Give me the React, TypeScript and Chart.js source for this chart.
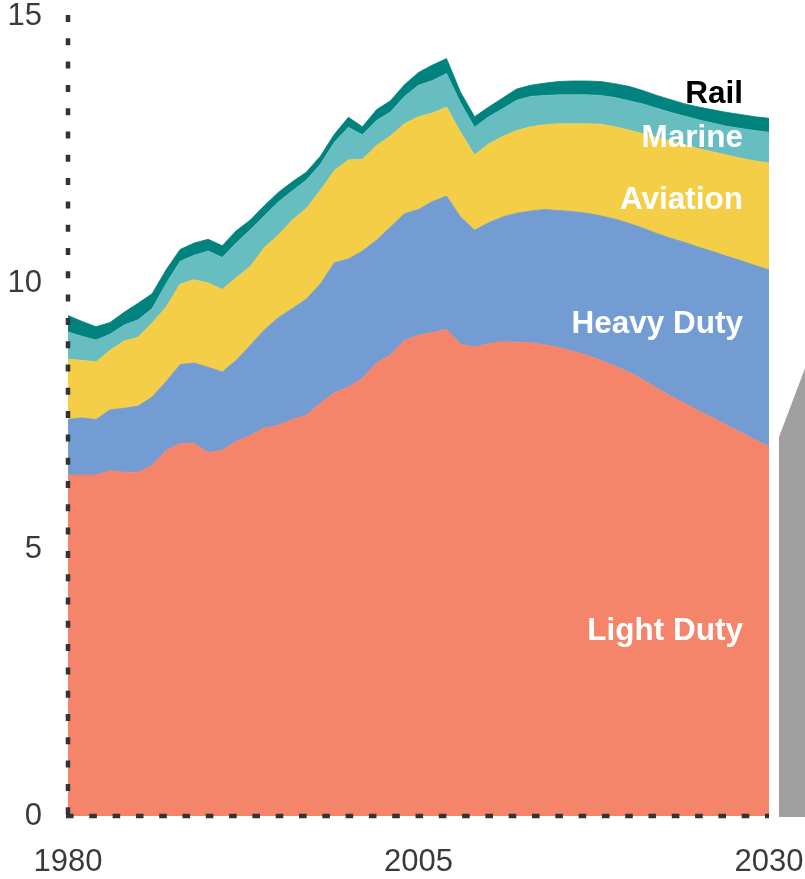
import React, { useEffect, useRef } from 'react';
import { Chart, registerables } from 'chart.js';

Chart.register(...registerables);

// ---- Data ----
const years = [
  1980, 1981, 1982, 1983, 1984, 1985, 1986, 1987, 1988, 1989,
  1990, 1991, 1992, 1993, 1994, 1995, 1996, 1997, 1998, 1999,
  2000, 2001, 2002, 2003, 2004, 2005, 2006, 2007, 2008, 2009,
  2010, 2011, 2012, 2013, 2014, 2015, 2016, 2017, 2018, 2019,
  2020, 2021, 2022, 2023, 2024, 2025, 2026, 2027, 2028, 2029, 2030,
];

const lightDuty = [
  6.40, 6.40, 6.40, 6.48, 6.45, 6.45, 6.58, 6.86, 6.99, 6.99,
  6.82, 6.86, 7.03, 7.14, 7.28, 7.33, 7.44, 7.52, 7.75, 7.94,
  8.05, 8.21, 8.50, 8.65, 8.92, 9.02, 9.07, 9.13, 8.85, 8.80,
  8.86, 8.90, 8.89, 8.88, 8.84, 8.79, 8.72, 8.65, 8.55, 8.44,
  8.33, 8.19, 8.03, 7.88, 7.74, 7.60, 7.47, 7.33, 7.20, 7.06, 6.93,
];

const heavyDuty = [
  1.04, 1.07, 1.04, 1.14, 1.20, 1.24, 1.28, 1.29, 1.48, 1.51,
  1.60, 1.47, 1.52, 1.69, 1.84, 2.02, 2.08, 2.18, 2.23, 2.44,
  2.40, 2.39, 2.30, 2.40, 2.38, 2.36, 2.46, 2.50, 2.39, 2.19,
  2.27, 2.34, 2.42, 2.47, 2.54, 2.57, 2.62, 2.66, 2.71, 2.76,
  2.79, 2.84, 2.90, 2.96, 3.02, 3.07, 3.12, 3.17, 3.22, 3.27, 3.32,
];

const aviation = [
  1.13, 1.08, 1.08, 1.12, 1.26, 1.29, 1.39, 1.40, 1.51, 1.56,
  1.58, 1.55, 1.55, 1.48, 1.54, 1.55, 1.66, 1.70, 1.76, 1.73,
  1.86, 1.72, 1.78, 1.71, 1.69, 1.74, 1.66, 1.67, 1.59, 1.41,
  1.48, 1.51, 1.55, 1.58, 1.59, 1.63, 1.65, 1.68, 1.72, 1.73,
  1.75, 1.77, 1.80, 1.82, 1.83, 1.85, 1.87, 1.90, 1.92, 1.96, 2.00,
];

const marine = [
  0.51, 0.45, 0.41, 0.30, 0.30, 0.33, 0.27, 0.44, 0.43, 0.46,
  0.60, 0.60, 0.65, 0.69, 0.60, 0.62, 0.55, 0.53, 0.49, 0.53,
  0.61, 0.46, 0.47, 0.45, 0.51, 0.59, 0.61, 0.63, 0.55, 0.52,
  0.51, 0.52, 0.57, 0.57, 0.55, 0.54, 0.54, 0.54, 0.54, 0.55,
  0.55, 0.56, 0.55, 0.54, 0.54, 0.54, 0.54, 0.54, 0.56, 0.57, 0.58,
];

const rail = [
  0.31, 0.28, 0.25, 0.22, 0.24, 0.31, 0.28, 0.26, 0.22, 0.23,
  0.22, 0.22, 0.23, 0.18, 0.19, 0.18, 0.17, 0.15, 0.15, 0.15,
  0.19, 0.15, 0.20, 0.21, 0.22, 0.24, 0.29, 0.28, 0.20, 0.20,
  0.18, 0.20, 0.21, 0.21, 0.23, 0.25, 0.26, 0.26, 0.26, 0.26,
  0.27, 0.25, 0.24, 0.24, 0.23, 0.24, 0.25, 0.26, 0.26, 0.26, 0.26,
];

const seriesNames = ['Light Duty', 'Heavy Duty', 'Aviation', 'Marine', 'Rail'];
const xTicks = [1980, 2005, 2030];
const yTicks = [0, 5, 10, 15];

// ---- Styles ----
const seriesColors = ['#F4846A', '#729CD2', '#F4CE46', '#68BDC1', '#00827F'];
const labelColors = ['#FFFFFF', '#FFFFFF', '#FFFFFF', '#FFFFFF', '#000000'];
// label anchor (x in years, y in value units) for the in-chart series names
const labelAnchorX = 2028.15;
const labelAnchorY = [3.3, 9.06, 11.39, 12.55, 13.38];
const FONT = '"Liberation Sans", Arial, Helvetica, sans-serif';
const AXIS_COLOR = '#333333';

const dottedAxes = {
  id: 'dottedAxes',
  afterDatasetsDraw(chart: any) {
    const { ctx, chartArea } = chart;
    const { left, right, top, bottom } = chartArea;
    ctx.save();
    ctx.strokeStyle = AXIS_COLOR;
    ctx.lineWidth = 4.5;
    ctx.lineCap = 'butt';
    // left axis
    ctx.setLineDash([7, 16.3]);
    ctx.beginPath();
    ctx.moveTo(left, top - 1.5);
    ctx.lineTo(left, bottom + 2);
    ctx.stroke();
    // bottom axis
    ctx.setLineDash([7.6, 15.7]);
    ctx.beginPath();
    ctx.moveTo(left - 2, bottom);
    ctx.lineTo(right, bottom);
    ctx.stroke();
    ctx.restore();
  },
};

const inChartLabels = {
  id: 'inChartLabels',
  afterDatasetsDraw(chart: any) {
    const { ctx, scales } = chart;
    const xs = scales.x;
    const ys = scales.y;
    ctx.save();
    ctx.font = `bold 31.5px ${FONT}`;
    ctx.textAlign = 'right';
    ctx.textBaseline = 'alphabetic';
    seriesNames.forEach((name, i) => {
      ctx.fillStyle = labelColors[i];
      ctx.fillText(name, xs.getPixelForValue(labelAnchorX), ys.getPixelForValue(labelAnchorY[i]));
    });
    ctx.restore();
  },
};

// gray wedge of the neighbouring (cropped) panel on the right edge
const neighbourWedge = {
  id: 'neighbourWedge',
  afterDraw(chart: any) {
    const { ctx, chartArea, scales } = chart;
    const ys = scales.y;
    const left = chartArea.right + 10;
    const right = chart.width;
    const bottom = ys.getPixelForValue(0) + 1;
    ctx.save();
    ctx.fillStyle = '#A0A0A0';
    ctx.beginPath();
    ctx.moveTo(left, bottom);
    ctx.lineTo(left, ys.getPixelForValue(7.11));
    ctx.lineTo(right, ys.getPixelForValue(8.4));
    ctx.lineTo(right, bottom);
    ctx.closePath();
    ctx.fill();
    ctx.restore();
  },
};

export default function App() {
  const canvasRef = useRef<HTMLCanvasElement | null>(null);

  useEffect(() => {
    document.body.style.margin = '0';
    const canvas = canvasRef.current;
    if (!canvas) return;
    const seriesValues = [lightDuty, heavyDuty, aviation, marine, rail];
    const chart = new Chart(canvas, {
      type: 'line',
      data: {
        datasets: seriesValues.map((vals, i) => ({
          label: seriesNames[i],
          data: years.map((yr, j) => ({ x: yr, y: vals[j] })),
          backgroundColor: seriesColors[i],
          borderColor: seriesColors[i],
          borderWidth: 0.8,
          pointRadius: 0,
          tension: 0,
          fill: i === 0 ? 'origin' : '-1',
        })),
      },
      options: {
        responsive: false,
        animation: false,
        devicePixelRatio: 1,
        layout: { padding: { left: 0, right: 36, top: 16.5, bottom: 0 } },
        plugins: {
          legend: { display: false },
          tooltip: { enabled: false },
        },
        scales: {
          x: {
            type: 'linear',
            min: 1980,
            max: 2030,
            afterBuildTicks: (scale: any) => {
              scale.ticks = xTicks.map((v) => ({ value: v }));
            },
            afterFit: (scale: any) => {
              scale.height = 63;
              scale.paddingLeft = 0;
              scale.paddingRight = 0;
            },
            grid: { display: false, drawTicks: false },
            border: { display: false },
            ticks: {
              padding: 31,
              color: '#3a3a3a',
              font: { family: FONT, size: 31, lineHeight: 1 },
              maxRotation: 0,
              autoSkip: false,
              callback: (v: any) => String(v),
            },
          },
          y: {
            type: 'linear',
            stacked: true,
            min: 0,
            max: 15,
            afterBuildTicks: (scale: any) => {
              scale.ticks = yTicks.map((v) => ({ value: v }));
            },
            afterFit: (scale: any) => {
              scale.width = 68;
              scale.paddingTop = 0;
              scale.paddingBottom = 0;
            },
            grid: { display: false, drawTicks: false },
            border: { display: false },
            ticks: {
              padding: 26,
              color: '#3a3a3a',
              font: { family: FONT, size: 31, lineHeight: 1 },
              callback: (v: any) => String(v),
            },
          },
        },
      },
      plugins: [dottedAxes, inChartLabels, neighbourWedge],
    });
    return () => chart.destroy();
  }, []);

  return (
    <div style={{ position: 'absolute', left: 0, top: 0, width: 805, height: 879, background: '#fff' }}>
      <canvas ref={canvasRef} width={805} height={879} style={{ display: 'block', width: 805, height: 879 }} />
    </div>
  );
}
